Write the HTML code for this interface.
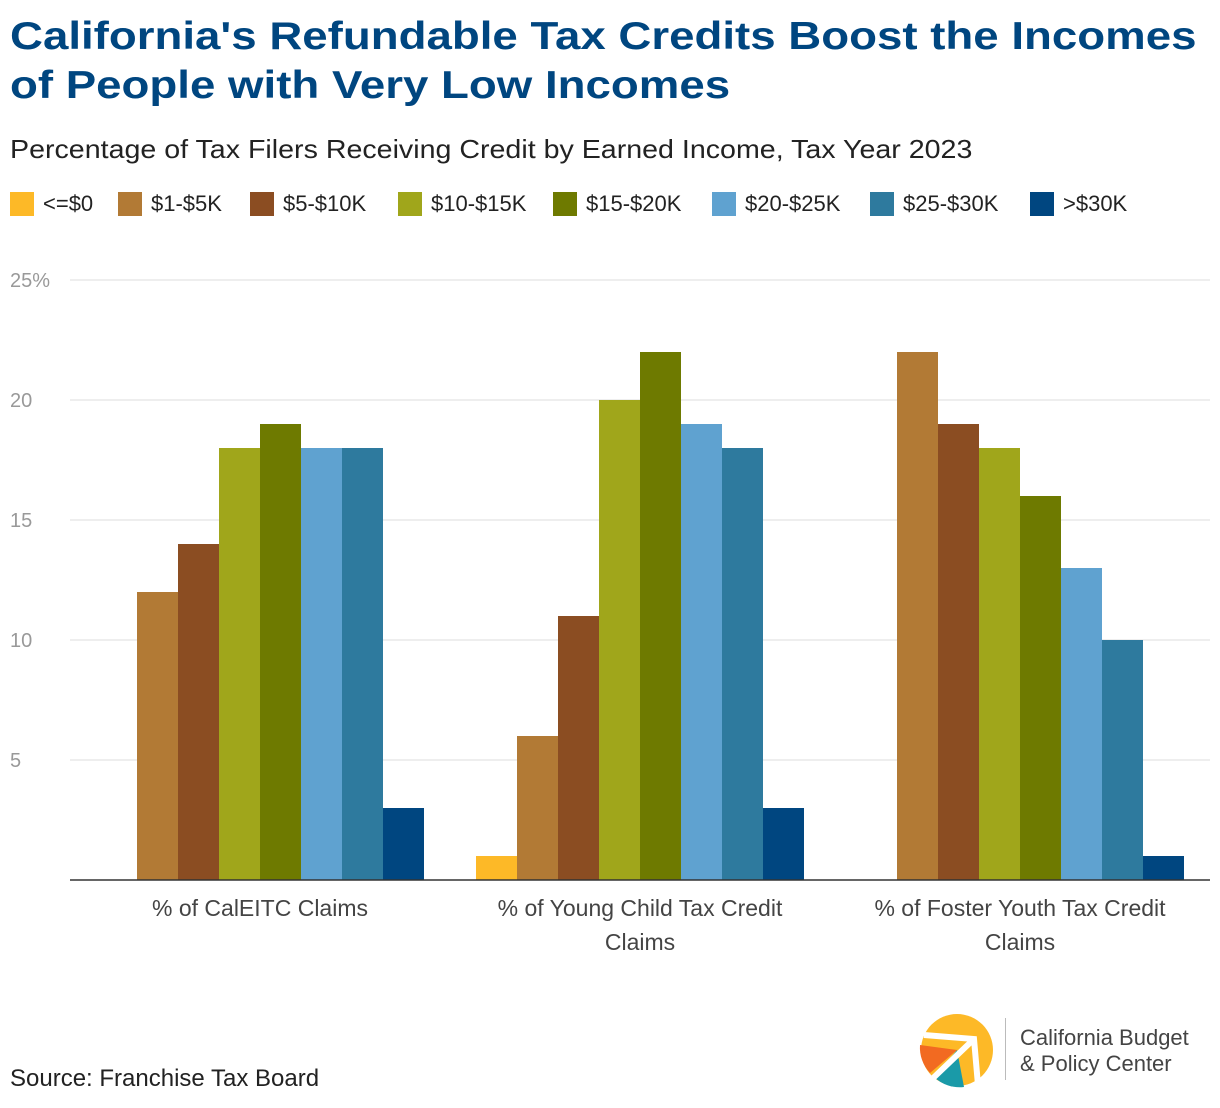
<!DOCTYPE html>
<html><head><meta charset="utf-8"><style>
body{margin:0;width:1220px;height:1108px;background:#fff;font-family:"Liberation Sans",sans-serif;position:relative;overflow:hidden}
h1{position:absolute;left:10px;top:12px;margin:0;font-size:39px;line-height:49px;color:#004680;font-weight:bold;transform:scaleX(1.17);transform-origin:left top;white-space:nowrap}
.sub{position:absolute;left:10px;top:134px;font-size:26px;color:#222;transform:scaleX(1.1);transform-origin:left top;white-space:nowrap}
.li{position:absolute;top:191px;display:flex;align-items:center;font-size:22px;color:#222;white-space:nowrap}
.sw{width:24px;height:24px;margin-right:9px}
.src{position:absolute;left:10px;top:1065px;font-size:24px;color:#222}
</style></head><body>
<h1>California's Refundable Tax Credits Boost the Incomes<br>of People with Very Low Incomes</h1>
<div class="sub">Percentage of Tax Filers Receiving Credit by Earned Income, Tax Year 2023</div>
<div id="legend"></div>
<svg id="chart" width="1220" height="1108" style="position:absolute;left:0;top:0"></svg>
<div class="src">Source: Franchise Tax Board</div>
<svg width="90" height="90" style="position:absolute;left:912px;top:1005px">
<circle cx="45" cy="45" r="36" fill="#FDB927"/>
<path d="M45 45 L8 40 A37 37 0 0 0 18 68 Z" fill="#F26A21"/>
<path d="M45 45 L22 72 A37 37 0 0 0 52 82 Z" fill="#1A9AA8"/>
<path d="M12 30 L62 34 L66 80" stroke="#fff" stroke-width="6" fill="none"/>
<path d="M62 34 L18 76" stroke="#fff" stroke-width="6"/>
</svg>
<div style="position:absolute;left:1005px;top:1018px;width:1px;height:62px;background:#bbb"></div>
<div style="position:absolute;left:1020px;top:1025px;font-size:22px;line-height:26px;color:#444">California Budget<br>&amp; Policy Center</div>
<script>
const categories=["% of CalEITC Claims","% of Young Child Tax Credit Claims","% of Foster Youth Tax Credit Claims"];
const seriesNames=["<=$0","$1-$5K","$5-$10K","$10-$15K","$15-$20K","$20-$25K","$25-$30K",">$30K"];
const seriesColors=["#FDB927","#B27A35","#8B4D22","#A0A61B","#6E7A00","#5FA2D0","#2E7A9E","#004680"];
const values=[
 [0,1,0],
 [12,6,22],
 [14,11,19],
 [18,20,18],
 [19,22,16],
 [18,19,13],
 [18,18,10],
 [3,3,1]
];
const tickVals=[5,10,15,20,25];
const tickLabels=["5","10","15","20","25%"];
const catLines=[["% of CalEITC Claims"],["% of Young Child Tax Credit","Claims"],["% of Foster Youth Tax Credit","Claims"]];
const legendLefts=[10,118,250,398,553,712,870,1030];
const NS="http://www.w3.org/2000/svg";
const svg=document.getElementById('chart');
const x0=70,x1=1210,yBase=880,yTop=280,maxV=25;
const y=v=>yBase-(v/maxV)*(yBase-yTop);
const gw=(x1-x0)/categories.length, bw=41, pad=(gw-bw*seriesNames.length)/2;
function mk(t,a){const e=document.createElementNS(NS,t);for(const k in a)e.setAttribute(k,a[k]);svg.appendChild(e);return e;}
tickVals.forEach((v,i)=>{
 const l=mk('line',{x1:x0,x2:x1,y1:y(v),y2:y(v),stroke:'#ddd','stroke-width':1});
 
 
 const t=mk('text',{x:10,y:y(v)+7,'font-size':20,fill:'#999','font-family':'Liberation Sans'});
 t.textContent=tickLabels[i];
 
 
});
seriesNames.forEach((s,si)=>{
 categories.forEach((c,ci)=>{
  const v=values[si][ci]; if(!v)return;
  const r=mk('rect',{x:x0+ci*gw+pad+si*bw,y:y(v),width:bw,height:yBase-y(v),fill:seriesColors[si]});
  
  
 });
});
const ax=mk('line',{x1:x0,x2:x1,y1:yBase,y2:yBase,stroke:'#333','stroke-width':1.5});


catLines.forEach((ls,ci)=>{
 ls.forEach((ln,li)=>{
  const t=mk('text',{x:x0+ci*gw+gw/2,y:916+li*34,'font-size':23,fill:'#444','text-anchor':'middle','font-family':'Liberation Sans'});
  t.textContent=ln;
  
  
 });
});
const lg=document.getElementById('legend');
seriesNames.forEach((s,i)=>{
 const d=document.createElement('div');d.className='li';d.style.left=legendLefts[i]+'px';
 
 
 const sw=document.createElement('span');sw.className='sw';sw.style.background=seriesColors[i];
 d.appendChild(sw);d.appendChild(document.createTextNode(s));lg.appendChild(d);
});
</script>
</body></html>
